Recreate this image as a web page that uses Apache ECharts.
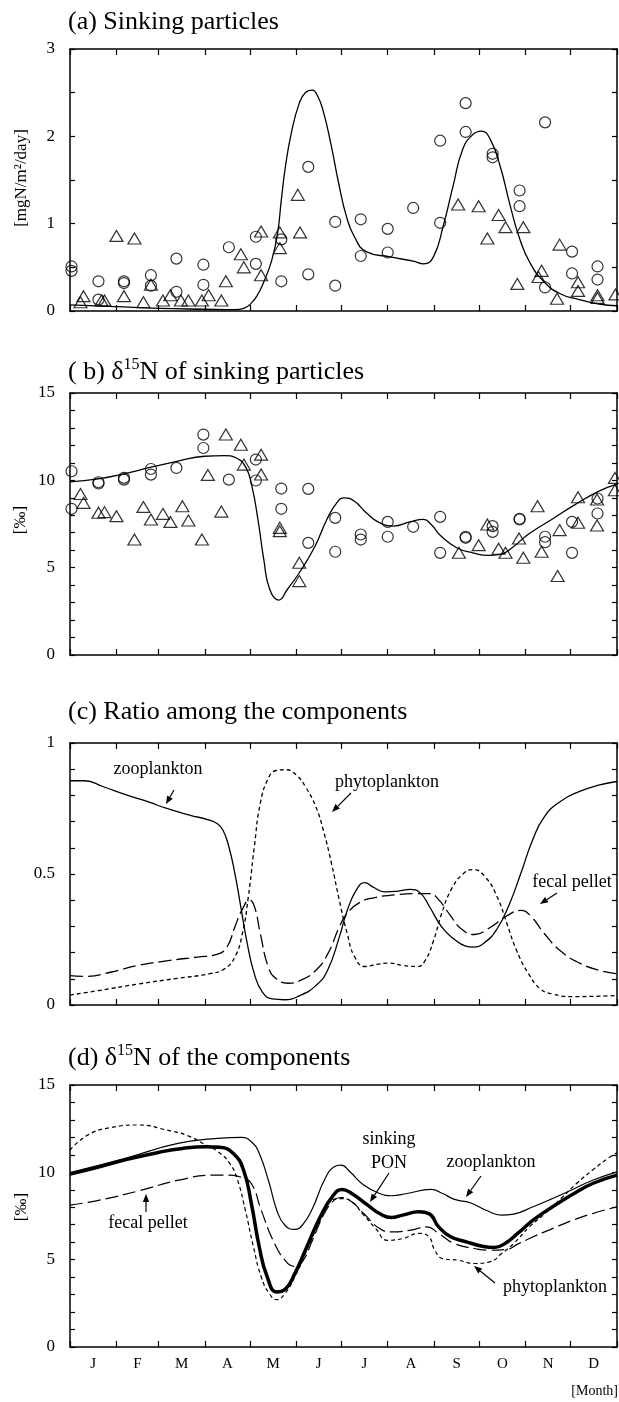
<!DOCTYPE html>
<html>
<head>
<meta charset="utf-8">
<script src="https://cdn.jsdelivr.net/npm/echarts@6/dist/echarts.min.js"></script>
<style>
  html, body { margin: 0; padding: 0; background: #fff; }
  #main { width: 619px; height: 1402px; }
</style>
</head>
<body>
<div id="main"></div>
<script>
// ---------- 公共数据 ----------
// x = day of year (0..365)
var monthLetters = ['J', 'F', 'M', 'A', 'M', 'J', 'J', 'A', 'S', 'O', 'N', 'D'];
var monthEdges = [0, 31, 59, 90, 120, 151, 181, 212, 243, 273, 304, 334, 365];

// (a) sinking particle flux [mgN/m2/day]
var fluxModel = [[0, 0.07], [30, 0.05], [60, 0.03], [90, 0.02], [110, 0.015], [116, 0.03], [121, 0.09], [125, 0.18],
    [129, 0.32], [134.6, 0.58], [138.5, 0.89], [141, 1.27], [143.8, 1.66], [147.7, 2.04], [153, 2.38], [157, 2.5],
    [161.7, 2.53], [165, 2.47], [168.8, 2.3], [174, 1.92], [179.3, 1.46], [184.5, 1.08], [189.8, 0.85], [197.7, 0.68],
    [213.5, 0.62], [229, 0.57], [236, 0.54], [242.5, 0.62], [249, 0.97], [255.6, 1.43], [262, 1.85], [268.8, 2.02],
    [274.6, 2.06], [280.6, 1.96], [287, 1.66], [293.8, 1.2], [300.4, 0.81], [307, 0.55], [316, 0.34], [326.7, 0.2],
    [339.8, 0.13], [353, 0.08], [365, 0.06]];
var fluxCircles = [[1, 0.51], [1, 0.46], [19, 0.34], [19, 0.13], [36, 0.34], [36, 0.32], [54, 0.41], [54, 0.29],
    [71, 0.6], [71, 0.22], [89, 0.53], [89, 0.3], [106, 0.73], [124, 0.85], [124, 0.54], [141, 0.82], [141, 0.34],
    [159, 0.42], [159, 1.65], [177, 1.02], [177, 0.29], [194, 1.05], [194, 0.63], [212, 0.94], [212, 0.67],
    [229, 1.18], [247, 1.95], [247, 1.01], [264, 2.38], [264, 2.05], [282, 1.8], [282, 1.76], [300, 1.38], [300, 1.2],
    [317, 2.16], [317, 0.27], [335, 0.68], [335, 0.43], [352, 0.51], [352, 0.36]];
var fluxTriangles = [[7, 0.1], [9, 0.17], [21, 0.12], [23, 0.12], [31, 0.86], [36, 0.17], [43, 0.83], [49, 0.1],
    [54, 0.3], [62, 0.12], [67, 0.18], [74, 0.12], [79, 0.12], [88, 0.12], [92.5, 0.18], [101, 0.12], [104, 0.34],
    [114, 0.65], [116, 0.5], [127.5, 0.91], [127.5, 0.41], [140, 0.9], [140, 0.72], [152, 1.33], [153.5, 0.9],
    [259, 1.22], [272.7, 1.2], [278.5, 0.83], [286, 1.1], [290.6, 0.96], [298.5, 0.31], [302.5, 0.96], [312.6, 0.39],
    [314.7, 0.46], [325, 0.14], [326.7, 0.76], [339, 0.33], [339, 0.23], [352, 0.18], [352, 0.15], [364, 0.19]];

// (b) d15N of sinking particles [permil]
var d15Model = [[0, 9.91], [18.8, 10.08], [36, 10.37], [54, 10.75], [71.4, 11.09], [89.8, 11.38], [103, 11.42],
    [111, 11.28], [117.5, 10.71], [121.4, 9.66], [125.4, 7.76], [129.3, 5.47], [133.3, 3.75], [139.3, 3.14],
    [145, 3.75], [153, 4.71], [163.5, 6.23], [171.4, 7.76], [178, 8.71], [183, 9.0], [189.8, 8.8], [197.7, 8.14],
    [205.6, 7.62], [216, 7.38], [226.7, 7.62], [236, 7.76], [241, 7.47], [247.7, 6.8], [258, 6.14], [268.8, 5.85],
    [279, 5.7], [287, 5.76], [295, 6.14], [305.6, 6.9], [321.4, 7.76], [337, 8.61], [353, 9.38], [365, 9.78]];
var d15Circles = [[1, 10.52], [1, 8.37], [19, 9.89], [19, 9.82], [36, 10.14], [36, 10.04], [54, 10.65], [54, 10.33],
    [71, 10.71], [89, 12.62], [89, 11.85], [106, 10.04], [124, 11.19], [124, 9.99], [141, 9.53], [141, 8.37],
    [159, 9.51], [159, 6.42], [177, 7.85], [177, 5.91], [194, 6.9], [194, 6.61], [212, 7.62], [212, 6.77],
    [229, 7.34], [247, 7.91], [247, 5.85], [264, 6.77], [264, 6.71], [282, 7.38], [282, 7.05], [300, 7.8], [300, 7.76],
    [317, 6.77], [317, 6.46], [335, 7.62], [335, 5.85], [352, 8.96], [352, 8.1]];
var d15Triangles = [[7, 9.22], [9, 8.71], [19, 8.14], [23, 8.18], [31, 7.95], [43, 6.61], [49, 8.48], [54, 7.76],
    [62, 8.08], [67, 7.62], [75, 8.52], [79, 7.7], [88, 6.61], [92, 10.31], [101, 8.21], [104, 12.62], [114, 12.04],
    [116, 10.9], [127.5, 11.47], [127.5, 10.33], [140, 7.28], [140, 7.09], [153, 5.28], [153, 4.23], [259.5, 5.85],
    [272.7, 6.29], [278.5, 7.47], [286, 6.08], [290.6, 5.85], [299.6, 6.67], [302.5, 5.57], [312, 8.52], [314.7, 5.91],
    [325.4, 4.52], [326.7, 7.15], [339, 9.03], [339, 7.57], [351.7, 7.41], [351.7, 8.9], [363.6, 10.14], [363.6, 9.43]];

// (c) ratio among the components
var ratioZoo = [[0, 0.856], [10, 0.856], [21.8, 0.834], [37.6, 0.802], [53.4, 0.773], [64, 0.751], [79.7, 0.725],
    [92.9, 0.706], [98, 0.693], [102, 0.668], [106, 0.604], [110, 0.502], [114, 0.374], [117.9, 0.246], [123, 0.119],
    [128.4, 0.049], [135, 0.023], [142.9, 0.02], [153.4, 0.036], [164, 0.074], [171.8, 0.132], [179.7, 0.259],
    [185, 0.361], [191.6, 0.444], [196.8, 0.467], [202, 0.451], [210, 0.432], [219, 0.435], [227, 0.441],
    [233.7, 0.428], [240, 0.374], [248, 0.298], [256, 0.253], [264, 0.225], [269, 0.221], [277, 0.24], [285, 0.291],
    [292.9, 0.381], [300.8, 0.502], [308.7, 0.63], [316.6, 0.719], [327, 0.776], [340, 0.815], [353.4, 0.84],
    [365, 0.853]];
var ratioPhyto = [[0, 0.038], [19, 0.055], [45.5, 0.08], [71.8, 0.102], [92.9, 0.119], [103, 0.138], [110, 0.183],
    [115, 0.272], [119, 0.413], [123, 0.604], [127, 0.77], [132.4, 0.866], [137.6, 0.895], [144, 0.898],
    [150.8, 0.879], [157, 0.834], [164, 0.757], [169, 0.668], [174.5, 0.54], [179.7, 0.4], [185, 0.272], [190, 0.183],
    [196.8, 0.147], [204.7, 0.155], [212.6, 0.16], [222, 0.151], [232, 0.147], [237, 0.17], [242.6, 0.246],
    [248, 0.349], [254.7, 0.444], [262.6, 0.502], [269, 0.517], [277, 0.489], [285, 0.413], [291.6, 0.31], [298, 0.208],
    [306, 0.119], [314, 0.061], [322, 0.042], [335, 0.032], [365, 0.036]];
var ratioFecal = [[0, 0.112], [11, 0.109], [27, 0.125], [45.5, 0.151], [66.6, 0.17], [85, 0.183], [98, 0.193],
    [104.7, 0.221], [110, 0.298], [115, 0.365], [119.7, 0.4], [123, 0.377], [127, 0.272], [132.4, 0.144],
    [137.6, 0.1], [145.5, 0.083], [153.4, 0.093], [164, 0.132], [172, 0.195], [179.7, 0.298], [185, 0.35],
    [192.9, 0.39], [203.4, 0.41], [216.6, 0.42], [229.7, 0.425], [240, 0.425], [245.5, 0.405], [253.4, 0.345],
    [261, 0.291], [270, 0.269], [279, 0.291], [292, 0.342], [300.8, 0.361], [307, 0.342], [316.6, 0.272],
    [327, 0.208], [340, 0.16], [353.4, 0.132], [365, 0.119]];

// (d) d15N of the components [permil]
var compPON = [[0, 9.9], [19.7, 10.32], [38, 10.74], [59, 11.14], [75, 11.37], [90.8, 11.47], [100, 11.43],
    [109, 11.08], [115.8, 10.13], [121, 8.22], [126.3, 5.73], [131.6, 4.01], [138, 3.15], [143.4, 3.29], [150, 4.2],
    [158, 5.73], [167, 7.45], [175, 8.6], [181.6, 9.02], [188, 8.79], [198.7, 8.12], [206.6, 7.64], [214.5, 7.41],
    [222, 7.55], [232.9, 7.74], [239.5, 7.64], [246, 6.88], [254, 6.31], [264.5, 6.02], [275, 5.77], [283, 5.69],
    [290.8, 5.96], [298.7, 6.5], [309, 7.26], [322, 8.03], [335.5, 8.75], [348.7, 9.36], [365, 9.84]];
var compZoo = [[0, 9.98], [38, 10.83], [72, 11.66], [98.7, 11.94], [114.5, 12.0], [121, 11.75], [126.3, 11.08],
    [133, 9.36], [138, 7.83], [143.4, 6.97], [150, 6.73], [155, 6.97], [161.8, 7.93], [169.7, 9.55], [176.3, 10.32],
    [180.8, 10.41], [186.8, 10.03], [196, 9.27], [206.6, 8.79], [214.5, 8.66], [225, 8.79], [240.8, 9.02],
    [248.7, 8.79], [256.6, 8.45], [267, 8.26], [277.6, 7.83], [288, 7.55], [296, 7.61], [309, 8.03], [322, 8.5],
    [335.5, 9.02], [348.7, 9.55], [365, 10.03]];
var compPhyto = [[0, 11.27], [11.8, 12.13], [27.6, 12.57], [46, 12.71], [64.5, 12.42], [77.6, 12.13], [90.8, 11.56],
    [98.7, 11.18], [106.6, 10.51], [111.8, 9.55], [117, 7.83], [122.4, 5.73], [127.6, 4.01], [133, 3.06], [138, 2.71],
    [143.4, 3.06], [150, 4.01], [159, 5.73], [167, 7.26], [175, 8.41], [180.8, 8.5], [188, 8.31], [196, 7.55],
    [204, 6.78], [211.8, 6.11], [222, 6.21], [233, 6.5], [239.5, 6.31], [243.4, 5.54], [248.7, 5.06], [259, 4.97],
    [269.7, 4.78], [280, 4.87], [288, 5.35], [296, 5.92], [306.6, 6.88], [317, 7.64], [327.6, 8.5], [338, 9.36],
    [348.7, 10.13], [359, 10.8], [365, 11.12]];
var compFecal = [[0, 8.12], [19.7, 8.41], [46, 8.94], [72.4, 9.55], [96, 9.84], [106.6, 9.84], [114.5, 9.71],
    [121, 9.36], [127.6, 7.83], [135.5, 6.11], [143.4, 4.97], [150, 4.62], [155, 4.87], [161.8, 6.11], [169.7, 7.64],
    [176.3, 8.41], [180.8, 8.56], [188, 8.31], [196, 7.64], [206.6, 6.78], [214.5, 6.59], [227.6, 6.69], [238, 6.88],
    [246, 6.5], [256.6, 5.92], [269.7, 5.64], [280, 5.54], [290.8, 5.58], [298.7, 5.89], [309, 6.31], [322, 6.78],
    [335.5, 7.26], [348.7, 7.64], [365, 8.03]];

// ---------- 配置 ----------
var FONT = "'Liberation Serif', 'Times New Roman', serif";
var panelTops = [49, 393, 743, 1085];
var panelH = 262;
var monthMids = monthEdges.slice(0, -1).map(function (e, k) { return (e + monthEdges[k + 1]) / 2; });

var yCfg = [
    { max: 3, labels: [0, 1, 2, 3], step: 0.5 },
    { max: 15, labels: [0, 5, 10, 15], step: 1 },
    { max: 1, labels: [0, 0.5, 1], step: 0.1 },
    { max: 15, labels: [0, 5, 10, 15], step: 1 }
];

function range(max, step) {
    var out = [];
    var n = Math.round(max / step);
    for (var k = 0; k <= n; k++) out.push(+(k * step).toFixed(3));
    return out;
}

var axisLine = { show: true, onZero: false, lineStyle: { color: '#000', width: 1.5 } };
var tickLine = { color: '#000', width: 1.2 };

var grids = [], xAxes = [], yAxes = [];
panelTops.forEach(function (top, i) {
    grids.push({ left: 70, right: 2, top: top, height: panelH });
    ['bottom', 'top'].forEach(function (pos) {
        xAxes.push({
            type: 'value', gridIndex: i, position: pos, min: 0, max: 365,
            axisLine: axisLine,
            axisTick: { show: true, inside: true, length: 6, customValues: monthEdges, lineStyle: tickLine },
            axisLabel: {
                show: i === 3 && pos === 'bottom', customValues: monthMids, margin: 10,
                fontFamily: FONT, fontSize: 15, color: '#000',
                formatter: function (v) { return monthLetters[monthMids.indexOf(v)] || ''; }
            },
            splitLine: { show: false }
        });
    });
    var c = yCfg[i];
    ['left', 'right'].forEach(function (pos) {
        yAxes.push({
            type: 'value', gridIndex: i, position: pos, min: 0, max: c.max,
            axisLine: axisLine,
            axisTick: { show: true, inside: true, length: 5, customValues: range(c.max, c.step), lineStyle: tickLine },
            axisLabel: {
                show: pos === 'left', customValues: c.labels, margin: 15,
                fontFamily: FONT, fontSize: 17, color: '#000'
            },
            splitLine: { show: false }
        });
    });
});

function lineSeries(i, data, width, dash) {
    return {
        type: 'line', xAxisIndex: 2 * i, yAxisIndex: 2 * i, data: data,
        showSymbol: false, smooth: 0.5, silent: true,
        lineStyle: { color: '#000', width: width, type: dash || 'solid', join: 'round' }
    };
}
function scatterSeries(i, data, symbol, size) {
    return {
        type: 'scatter', xAxisIndex: 2 * i, yAxisIndex: 2 * i, data: data,
        symbol: symbol, symbolSize: size, silent: true,
        itemStyle: { color: 'transparent', borderColor: '#000', borderWidth: 1.2 }
    };
}

var series = [
    lineSeries(0, fluxModel, 1.3),
    scatterSeries(0, fluxCircles, 'circle', 11),
    scatterSeries(0, fluxTriangles, 'triangle', [13, 11]),
    lineSeries(1, d15Model, 1.3),
    scatterSeries(1, d15Circles, 'circle', 11),
    scatterSeries(1, d15Triangles, 'triangle', [13, 11]),
    lineSeries(2, ratioZoo, 1.3),
    lineSeries(2, ratioPhyto, 1.3, [4, 3]),
    lineSeries(2, ratioFecal, 1.3, [13, 5]),
    lineSeries(3, compZoo, 1.2),
    lineSeries(3, compPhyto, 1.2, [4, 3]),
    lineSeries(3, compFecal, 1.2, [13, 5]),
    lineSeries(3, compPON, 3.5)
];

// ---------- 文本与箭头 ----------
function txt(s, x, y, size, align, rot) {
    return {
        type: 'text', x: x, y: y, rotation: rot || 0, silent: true,
        style: {
            text: s, fill: '#000', fontFamily: FONT, fontSize: size,
            textAlign: align || 'center', textVerticalAlign: 'middle'
        }
    };
}
function title(parts, y) {
    var rich = {
        n: { fontFamily: FONT, fontSize: 26, lineHeight: 30, fill: '#000' },
        s: { fontFamily: FONT, fontSize: 16, lineHeight: 30, verticalAlign: 'top', fill: '#000' }
    };
    return {
        type: 'text', x: 68, y: y, silent: true,
        style: { text: parts, rich: rich, textAlign: 'left', textVerticalAlign: 'middle' }
    };
}
function arrow(x1, y1, x2, y2) {
    var a = Math.atan2(y2 - y1, x2 - x1), L = 8, W = 3.2;
    var bx = x2 - L * Math.cos(a), by = y2 - L * Math.sin(a);
    return [
        { type: 'line', silent: true, shape: { x1: x1, y1: y1, x2: bx, y2: by }, style: { stroke: '#000', lineWidth: 1.2 } },
        {
            type: 'polygon', silent: true,
            shape: { points: [[x2, y2], [bx + W * Math.sin(a), by - W * Math.cos(a)], [bx - W * Math.sin(a), by + W * Math.cos(a)]] },
            style: { fill: '#000' }
        }
    ];
}

var graphics = [
    title('{n|(a) Sinking particles}', 22),
    title('{n|( b) δ}{s|15}{n|N of sinking particles}', 372),
    title('{n|(c) Ratio among the components}', 712),
    title('{n|(d) δ}{s|15}{n|N of the components}', 1058),
    txt('[mgN/m²/day]', 22, 178, 17, 'center', Math.PI / 2),
    txt('[‰]', 21, 520, 17, 'center', Math.PI / 2),
    txt('[‰]', 22, 1207, 17, 'center', Math.PI / 2),
    txt('[Month]', 618, 1391, 14, 'right'),
    txt('zooplankton', 158, 769, 18),
    txt('phytoplankton', 387, 782, 18),
    txt('fecal pellet', 572, 882, 18),
    txt('sinking', 389, 1139, 18),
    txt('PON', 389, 1163, 18),
    txt('zooplankton', 491, 1162, 18),
    txt('fecal pellet', 148, 1223, 18),
    txt('phytoplankton', 555, 1287, 18)
]
    .concat(arrow(174, 790, 166, 804))
    .concat(arrow(351, 793, 332, 812))
    .concat(arrow(557, 893, 540, 904))
    .concat(arrow(389, 1173, 370, 1202))
    .concat(arrow(481, 1176, 466, 1197))
    .concat(arrow(146, 1212, 146, 1194))
    .concat(arrow(495, 1283, 474, 1266));

var myChart = echarts.init(document.getElementById('main'), null, { renderer: 'canvas' });
myChart.setOption({
    animation: false,
    backgroundColor: '#fff',
    grid: grids,
    xAxis: xAxes,
    yAxis: yAxes,
    series: series,
    graphic: graphics
});
</script>
</body>
</html>
